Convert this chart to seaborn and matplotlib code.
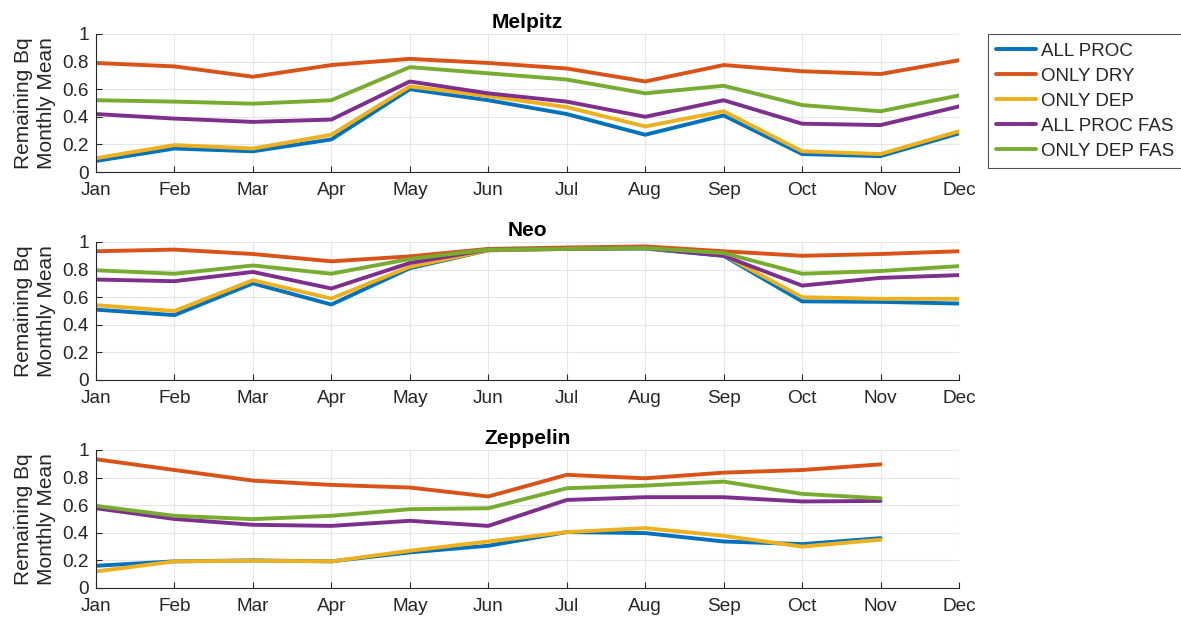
import numpy as np
import pandas as pd
import matplotlib
matplotlib.use('Agg')
import matplotlib.pyplot as plt
import seaborn as sns

# meses e nomes das séries
meses = ['Jan', 'Feb', 'Mar', 'Apr', 'May', 'Jun', 'Jul', 'Aug', 'Sep', 'Oct', 'Nov', 'Dec']
series = ['ALL PROC', 'ONLY DRY', 'ONLY DEP', 'ALL PROC FAS', 'ONLY DEP FAS']
estacoes = ['Melpitz', 'Neo', 'Zeppelin']
cores = ['#0072BD', '#D95319', '#EDB120', '#7E2F8E', '#77AC30']

# Melpitz
melpitz_all_proc = [0.08, 0.17, 0.15, 0.236, 0.60, 0.52, 0.42, 0.27, 0.41, 0.13, 0.115, 0.28]
melpitz_only_dry = [0.79, 0.765, 0.69, 0.775, 0.82, 0.79, 0.75, 0.656, 0.775, 0.73, 0.71, 0.81]
melpitz_only_dep = [0.10, 0.195, 0.17, 0.27, 0.62, 0.55, 0.47, 0.33, 0.44, 0.15, 0.13, 0.295]
melpitz_all_proc_fas = [0.42, 0.387, 0.363, 0.38, 0.656, 0.57, 0.51, 0.40, 0.52, 0.35, 0.34, 0.475]
melpitz_only_dep_fas = [0.52, 0.51, 0.495, 0.52, 0.76, 0.715, 0.67, 0.57, 0.625, 0.485, 0.44, 0.555]

# Neo
neo_all_proc = [0.51, 0.47, 0.70, 0.547, 0.81, 0.94, 0.95, 0.952, 0.90, 0.57, 0.566, 0.554]
neo_only_dry = [0.933, 0.945, 0.913, 0.86, 0.896, 0.95, 0.96, 0.968, 0.933, 0.90, 0.913, 0.933]
neo_only_dep = [0.542, 0.50, 0.723, 0.59, 0.82, 0.94, 0.95, 0.955, 0.905, 0.60, 0.588, 0.588]
neo_all_proc_fas = [0.728, 0.716, 0.783, 0.663, 0.848, 0.945, 0.95, 0.957, 0.90, 0.684, 0.74, 0.76]
neo_only_dep_fas = [0.795, 0.77, 0.83, 0.77, 0.877, 0.945, 0.95, 0.957, 0.92, 0.77, 0.79, 0.825]

# Zeppelin (sem dezembro)
zep_all_proc = [0.161, 0.193, 0.20, 0.193, 0.258, 0.306, 0.405, 0.398, 0.337, 0.318, 0.361, np.nan]
zep_only_dry = [0.933, 0.855, 0.778, 0.747, 0.728, 0.663, 0.82, 0.795, 0.836, 0.855, 0.896, np.nan]
zep_only_dep = [0.12, 0.193, 0.198, 0.193, 0.27, 0.337, 0.405, 0.434, 0.378, 0.30, 0.35, np.nan]
zep_all_proc_fas = [0.578, 0.50, 0.458, 0.45, 0.487, 0.45, 0.638, 0.658, 0.658, 0.627, 0.631, np.nan]
zep_only_dep_fas = [0.595, 0.523, 0.499, 0.523, 0.571, 0.578, 0.723, 0.742, 0.771, 0.682, 0.65, np.nan]

dados = {
    'Melpitz': [melpitz_all_proc, melpitz_only_dry, melpitz_only_dep, melpitz_all_proc_fas, melpitz_only_dep_fas],
    'Neo': [neo_all_proc, neo_only_dry, neo_only_dep, neo_all_proc_fas, neo_only_dep_fas],
    'Zeppelin': [zep_all_proc, zep_only_dry, zep_only_dep, zep_all_proc_fas, zep_only_dep_fas],
}

linhas = []
for est in estacoes:
    for nome, vals in zip(series, dados[est]):
        for i, v in enumerate(vals):
            linhas.append({'Estacao': est, 'Serie': nome, 'Mes': i, 'Valor': v})
df = pd.DataFrame(linhas).dropna()

sns.set_theme(style='white')
plt.rcParams['font.family'] = ['Liberation Sans', 'DejaVu Sans']

fig = plt.figure(figsize=(11.81, 6.17), dpi=100)
W, H = 1181, 617
left, right = 96, 959
tops = [34, 242, 450]
altura = 138

paleta = dict(zip(series, cores))
for k, est in enumerate(estacoes):
    ax = fig.add_axes([left / W, 1 - (tops[k] + altura) / H, (right - left) / W, altura / H])
    sub = df[df['Estacao'] == est]
    sns.lineplot(data=sub, x='Mes', y='Valor', hue='Serie', hue_order=series,
                 palette=paleta, linewidth=2.8, sort=False, ax=ax, legend=(k == 0))
    ax.set_xlim(0, 11)
    ax.set_ylim(0, 1)
    ax.set_xticks(range(12))
    ax.set_xticklabels(meses)
    ax.set_yticks([0, 0.2, 0.4, 0.6, 0.8, 1])
    ax.set_yticklabels(['0', '0.2', '0.4', '0.6', '0.8', '1'])
    ax.grid(True, color='#e6e6e6', linewidth=0.8)
    ax.set_axisbelow(True)
    for s in ['top', 'right']:
        ax.spines[s].set_visible(False)
    for s in ['left', 'bottom']:
        ax.spines[s].set_color('#262626')
        ax.spines[s].set_linewidth(0.8)
    ax.tick_params(direction='in', length=4, width=0.8, colors='#262626',
                   labelsize=13.7, left=True, bottom=True)
    ax.tick_params(axis='x', pad=7)
    ax.tick_params(axis='y', pad=5)
    ax.set_xlabel('')
    ax.set_ylabel('Remaining Bq\nMonthly Mean', fontsize=15, color='#262626', labelpad=5,
                  linespacing=1.25)
    ax.set_title(est, fontsize=15, fontweight='bold', pad=4, color='black')
    if k == 0:
        leg = ax.legend(loc='upper left', bbox_to_anchor=(988 / W, 1 - 34 / H),
                        bbox_transform=fig.transFigure, fontsize=13.5, frameon=True,
                        fancybox=False, edgecolor='#262626', borderpad=0.45,
                        borderaxespad=0, handlelength=2.1, handletextpad=0.27,
                        labelspacing=0.42)
        leg.get_frame().set_linewidth(0.8)

fig.savefig('out.png', dpi=100)
